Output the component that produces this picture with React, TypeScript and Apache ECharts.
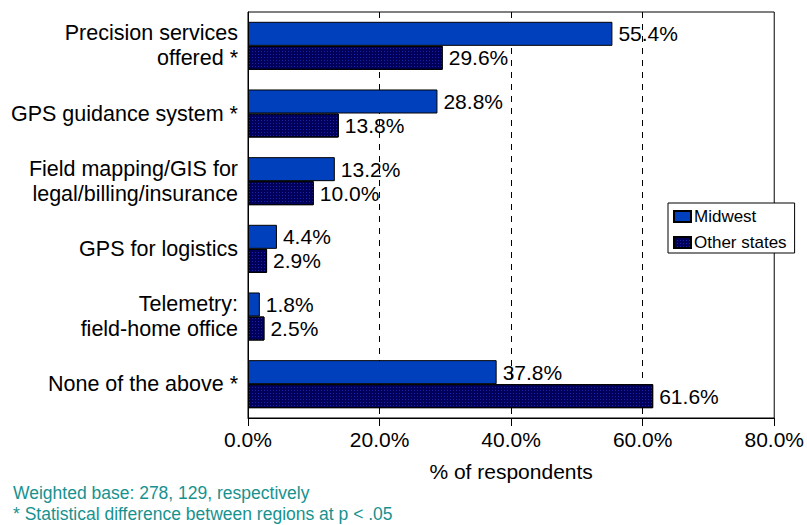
import React, { useEffect, useRef } from "react";
import * as echarts from "echarts";

const categories = [
  "Precision services\noffered *",
  "GPS guidance system *",
  "Field mapping/GIS for\nlegal/billing/insurance",
  "GPS for logistics",
  "Telemetry:\nfield-home office",
  "None of the above *",
];
const midwest = [55.4, 28.8, 13.2, 4.4, 1.8, 37.8];
const otherStates = [29.6, 13.8, 10.0, 2.9, 2.5, 61.6];
const seriesNames = ["Midwest", "Other states"];
const axisTitle = "% of respondents";
const footnotes = [
  "Weighted base: 278, 129, respectively",
  "* Statistical difference between regions at p < .05",
];

const FONT = "Liberation Sans, Arial, sans-serif";

export default function App() {
  const ref = useRef<HTMLDivElement>(null);
  useEffect(() => {
    document.body.style.margin = "0";
    if (!ref.current) return;
    const chart = echarts.init(ref.current, null, { renderer: "svg" });
    const label = {
      show: true,
      position: "right",
      distance: 6,
      fontSize: 21,
      fontFamily: FONT,
      color: "#000",
      formatter: (p: any) => `${Number(p.value).toFixed(1)}%`,
    };
    chart.setOption({
      animation: false,
      backgroundColor: "#fff",
      textStyle: { fontFamily: FONT },
      grid: {
        left: 248,
        right: 32,
        top: 12,
        bottom: 107,
        show: true,
        borderColor: "#000",
        borderWidth: 1,
        backgroundColor: "transparent",
      },
      legend: {
        orient: "vertical",
        left: 668,
        top: 203,
        padding: [5, 8, 2, 5],
        itemGap: 9,
        itemWidth: 17,
        itemHeight: 11,
        borderColor: "#000",
        borderWidth: 1,
        backgroundColor: "#fff",
        textStyle: { fontSize: 17, fontFamily: FONT, color: "#000", padding: [0, 0, 0, -2] },
        data: seriesNames.map((n) => ({ name: n, icon: "rect" })),
      },
      xAxis: {
        type: "value",
        min: 0,
        max: 80,
        interval: 20,
        axisLine: { show: true, lineStyle: { color: "#000", width: 1 } },
        axisTick: { show: true, inside: false, length: 8, lineStyle: { color: "#000" } },
        axisLabel: {
          fontSize: 21,
          fontFamily: FONT,
          color: "#000",
          margin: 11,
          formatter: (v: number) => `${v.toFixed(1)}%`,
        },
        splitLine: {
          show: true,
          showMinLine: false,
          showMaxLine: false,
          lineStyle: { color: "#000", type: [6, 6], width: 1 },
        },
        name: axisTitle,
        nameLocation: "middle",
        nameGap: 43,
        nameTextStyle: { fontSize: 21, fontFamily: FONT, color: "#000" },
      },
      yAxis: {
        type: "category",
        inverse: true,
        data: categories,
        axisLine: { show: true, lineStyle: { color: "#000" } },
        axisTick: { show: false },
        axisLabel: {
          fontSize: 21.5,
          fontFamily: FONT,
          color: "#000",
          margin: 10,
          lineHeight: 25,
          align: "right",
        },
      },
      series: [
        {
          name: seriesNames[0],
          type: "bar",
          data: midwest,
          barGap: "0%",
          barCategoryGap: "29%",
          itemStyle: { color: "#0040BC", borderColor: "#000", borderWidth: 1 },
          label,
        },
        {
          name: seriesNames[1],
          type: "bar",
          data: otherStates,
          barGap: "0%",
          barCategoryGap: "29%",
          itemStyle: {
            color: "#00005A",
            borderColor: "#000",
            borderWidth: 1,
            decal: {
              symbol: "rect",
              symbolSize: 1,
              color: "rgba(40,60,220,0.6)",
              dashArrayX: [1, 2],
              dashArrayY: [1, 2],
              rotation: 0,
            },
          },
          label,
        },
      ],
      graphic: footnotes.map((t, i) => ({
        type: "text",
        left: 13,
        top: 484 + i * 21,
        style: { text: t, fontSize: 17.5, fontFamily: FONT, fill: "#17928F" },
      })),
    });
    return () => chart.dispose();
  }, []);
  return <div ref={ref} style={{ position: "absolute", left: 0, top: 0, width: 807, height: 525 }} />;
}
